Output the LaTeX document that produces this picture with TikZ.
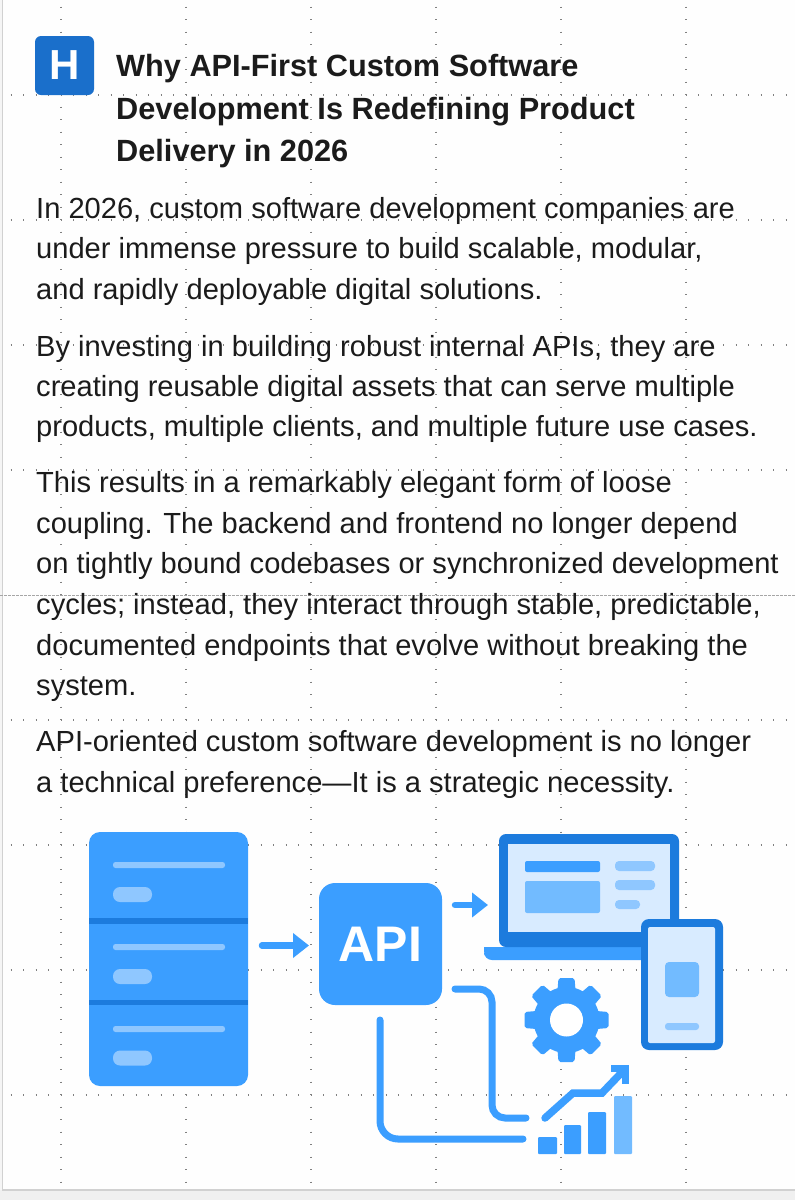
\documentclass[tikz,border=0pt]{standalone}
\usepackage{fontspec}
\setmainfont{Liberation Sans}
\usetikzlibrary{arrows.meta}
\definecolor{inktext}{HTML}{1B1B1B}
\definecolor{apiblue}{HTML}{3B9EFF}
\definecolor{darkblue}{HTML}{1C7BDD}
\definecolor{iconblue}{HTML}{1A6FCB}
\definecolor{softblue}{HTML}{8FC7FF}
\definecolor{midblue}{HTML}{72BBFF}
\definecolor{paleblue}{HTML}{D8EBFF}
\definecolor{griddot}{HTML}{808080}
\tikzset{
    titleline/.style={anchor=base west, inner sep=0pt, text=inktext, font=\fontsize{30.7}{34}\selectfont\bfseries},
    bodyline/.style={anchor=base west, inner sep=0pt, text=inktext, font=\fontsize{29.1}{33}\selectfont},
    dotline/.style={griddot, line width=1.1pt, dash pattern=on 1.1pt off 11.4pt},
    flowline/.style={apiblue, line width=7pt, line cap=round},
    flowarrow/.style={apiblue, line width=6.5pt, line cap=round, -{Triangle[length=16pt,width=24pt]}}
}
\begin{document}
\begin{tikzpicture}[x=1pt,y=-1pt]
        \useasboundingbox (0,0) rectangle (795,1200);
        \fill[white!99.5!black] (0,0) rectangle (795,1200);
        \fill[black!6] (0,1190) rectangle (795,1200);
        \fill[black!4] (0,0) rectangle (2,1190);
        \draw[black!18, line width=1.4pt] (2.5,0) -- (2.5,1190) -- (795,1190);
        \foreach \y in {95,220,345,470,720,845,970,1095} {
            \draw[dotline] (10.5,\y) -- (795,\y);
        }
        \draw[griddot!70, line width=0.9pt, dash pattern=on 2.5pt off 1.5pt] (0,595) -- (795,595);
        \foreach \x in {61,186,311,436,561,686} {
            \draw[dotline] (\x,6.5) -- (\x,1188);
        }

        \node[fill=iconblue, rounded corners=6pt, minimum size=59pt, inner sep=0pt, text=white, font=\fontsize{42}{42}\selectfont\bfseries] (logo) at (64.5,65.5) {H};
        \node[titleline] (title1) at (116,76) {Why API-First Custom Software};
        \node[titleline] (title2) at (116,119) {Development Is Redefining Product};
        \node[titleline] (title3) at (116,161) {Delivery in 2026};

        \node[bodyline] (para1a) at (36,218) {In 2026, custom software development companies are};
        \node[bodyline] (para1b) at (36,258) {under immense pressure to build scalable, modular,};
        \node[bodyline] (para1c) at (36,299) {and rapidly deployable digital solutions.};
        \node[bodyline] (para2a) at (36,356) {By investing in building robust internal APIs, they are};
        \node[bodyline] (para2b) at (36,396) {creating reusable digital assets that can serve multiple};
        \node[bodyline] (para2c) at (36,436) {products, multiple clients, and multiple future use cases.};
        \node[bodyline] (para3a) at (36,492) {This results in a remarkably elegant form of loose};
        \node[bodyline] (para3b) at (36,533) {coupling. The backend and frontend no longer depend};
        \node[bodyline] (para3c) at (36,573) {on tightly bound codebases or synchronized development};
        \node[bodyline] (para3d) at (36,614) {cycles; instead, they interact through stable, predictable,};
        \node[bodyline] (para3e) at (36,655) {documented endpoints that evolve without breaking the};
        \node[bodyline] (para3f) at (36,695) {system.};
        \node[bodyline] (para4a) at (36,751) {API-oriented custom software development is no longer};
        \node[bodyline] (para4b) at (36,792) {a technical preference---It is a strategic necessity.};

        \fill[apiblue, rounded corners=11pt] (89,832) rectangle (248,1086);
        \fill[darkblue] (89,918) rectangle (248,924);
        \fill[darkblue] (89,1000) rectangle (248,1005);
        \foreach \y in {862,944,1026} {
            \fill[softblue, rounded corners=2.5pt] (113,\y) rectangle (225,\y+6);
        }
        \foreach \y in {887,969,1050.5} {
            \fill[softblue, rounded corners=7pt] (113,\y) rectangle (152,\y+15);
        }

        \node[fill=apiblue, rounded corners=16pt, minimum width=123pt, minimum height=122pt, inner sep=0pt, text=white, font=\fontsize{50}{50}\selectfont\bfseries] (api) at (380.5,944) {API};

        \coordinate (serverout) at (262,945.5);
        \coordinate (apiin) at (309,945.5);
        \coordinate (apiout) at (455,905);
        \coordinate (laptopin) at (488,905);
        \coordinate (apigear) at (455,989);
        \coordinate (chartin) at (526,1118);
        \coordinate (apibottom) at (380,1020);
        \coordinate (chartlow) at (523,1139);
        \draw[flowarrow] (serverout) -- (apiin);
        \draw[flowarrow] (apiout) -- (laptopin);
        \draw[flowline, rounded corners=13pt] (apigear) -| (492,1118) -- (chartin);
        \draw[flowline, rounded corners=18pt] (apibottom) |- (chartlow);

        \fill[apiblue, rounded corners=8pt] (660,947) -- (660,960) -- (484,960) -- (484,947) [sharp corners] -- cycle;
        \fill[apiblue] (484,947) rectangle (496,952);
        \fill[darkblue, rounded corners=7pt] (499,947) -- (499,834) -- (679,834) -- (679,947) -- cycle;
        \fill[paleblue] (508,844) rectangle (670,932);
        \fill[apiblue, rounded corners=2pt] (525,861) rectangle (600,872);
        \fill[midblue, rounded corners=2pt] (525,881) rectangle (600,913);
        \fill[softblue, rounded corners=4pt] (615,861) rectangle (655,871);
        \fill[softblue, rounded corners=4pt] (615,880) rectangle (655,890);
        \fill[softblue, rounded corners=4pt] (615,900) rectangle (640,909);

        \fill[darkblue, rounded corners=8pt] (641,919) rectangle (723,1050);
        \fill[paleblue, rounded corners=2pt] (648,927) rectangle (715,1043);
        \fill[midblue, rounded corners=4pt] (665,962) rectangle (699,997);
        \fill[softblue, rounded corners=3pt] (665,1023) rectangle (699,1030);

        \foreach \a in {0,45,...,315} {
            \fill[apiblue, rotate around={\a:(566.5,1020)}, rounded corners=2pt] (555,1020) -- (558.5,978) -- (574.5,978) -- (578,1020) -- cycle;
        }
        \fill[apiblue] (566.5,1020) circle (33pt);
        \fill[white] (566.5,1020) circle (16.5pt);

        \draw[apiblue, line width=7.5pt, line cap=round, line join=miter] (545,1118) -- (573,1093) -- (602,1093) -- (625,1069);
        \draw[apiblue, line width=7.5pt, line join=miter] (611,1068.5) -- (625.5,1068.5) -- (625.5,1084);
        \fill[apiblue, rounded corners=1pt] (538,1137) rectangle (557,1154);
        \fill[apiblue, rounded corners=1pt] (564,1125) rectangle (581,1154);
        \fill[apiblue, rounded corners=1pt] (588,1112) rectangle (606,1154);
        \fill[midblue, rounded corners=1pt] (614,1096) rectangle (632,1154);
    \end{tikzpicture}
\end{document}
